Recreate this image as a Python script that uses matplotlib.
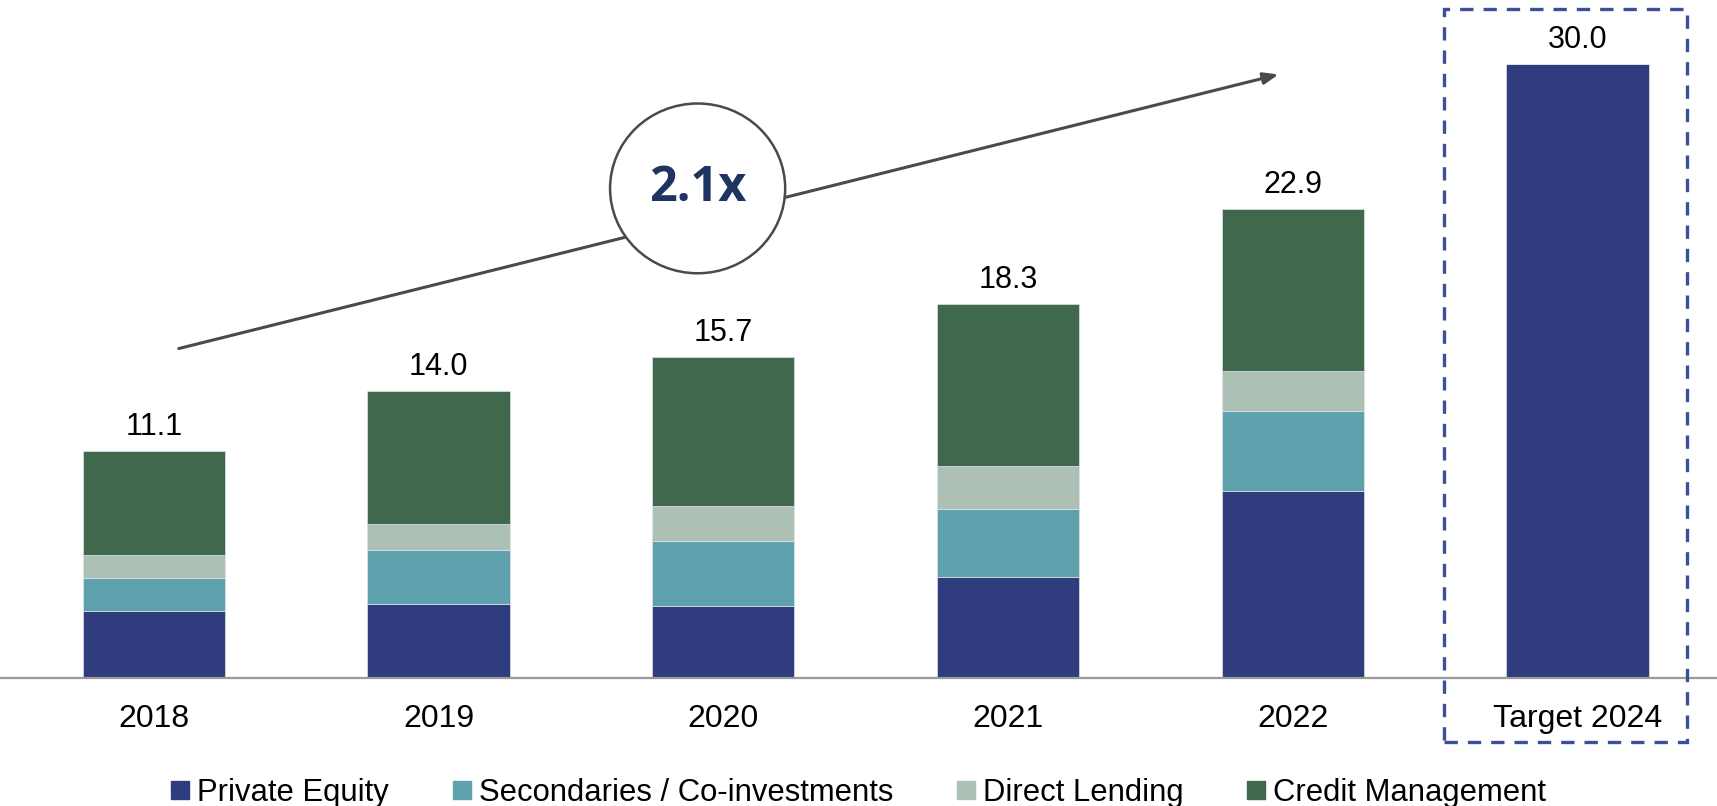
import matplotlib
matplotlib.use("Agg")
import matplotlib.pyplot as plt
import matplotlib.transforms as mtransforms
from matplotlib.patches import Ellipse, Rectangle
from matplotlib.lines import Line2D
import numpy as np

plt.rcParams['font.family'] = ['Liberation Sans', 'DejaVu Sans']

categories = ["2018", "2019", "2020", "2021", "2022", "Target 2024"]
series_names = ["Private Equity", "Secondaries / Co-investments", "Direct Lending", "Credit Management"]
private_equity = [3.29, 3.60, 3.52, 4.95, 9.14, 30.0]
secondaries = [1.57, 2.66, 3.18, 3.32, 3.91, 0.0]
direct_lending = [1.17, 1.24, 1.68, 2.09, 1.97, 0.0]
credit_management = [5.07, 6.50, 7.32, 7.94, 7.88, 0.0]
totals = [11.1, 14.0, 15.7, 18.3, 22.9, 30.0]
growth_label = "2.1x"

colors = ["#2F3C7E", "#5FA2AE", "#ADC0B6", "#3F684C"]

W, H, DPI = 1717, 806, 100
fig = plt.figure(figsize=(W / DPI, H / DPI), dpi=DPI)
ax = fig.add_axes([0, 0.159, 1, 0.841])

x = np.arange(len(categories))
bottom = np.zeros(len(categories))
for vals, col in zip([private_equity, secondaries, direct_lending, credit_management], colors):
    vals = np.array(vals)
    ax.bar(x, vals, width=0.5, bottom=bottom, color=col,
           edgecolor="#dfe3e6", linewidth=0.5, zorder=2)
    bottom += vals

for xi, t in zip(x, totals):
    ax.annotate(f"{t:.1f}", (xi, t), xytext=(0, 6.5), textcoords="offset points",
                ha="center", va="bottom", fontsize=22, color="black")

ax.set_xlim(-0.54, 5.49)
ax.set_ylim(0, 33.14)
for s in ["top", "right", "left"]:
    ax.spines[s].set_visible(False)
ax.spines["bottom"].set_color("#9a9a9a")
ax.spines["bottom"].set_linewidth(1.6)
ax.set_yticks([])
ax.set_xticks(x)
ax.set_xticklabels(categories, fontsize=23)
ax.tick_params(axis="x", length=0, pad=19)

# growth arrow and multiple badge
ax.annotate("", xy=(3.95, 29.5), xytext=(0.088, 16.1),
            arrowprops=dict(arrowstyle="-|>,head_length=0.9,head_width=0.35",
                            color="#4a4a4a", lw=2.2, shrinkA=0, shrinkB=0), zorder=3)
ax.add_patch(Ellipse((1.91, 23.93), 0.615, 8.3, facecolor="white",
                     edgecolor="#4a4a4a", linewidth=1.8, zorder=4))
ax.text(1.91, 23.93, growth_label, ha="center", va="center", fontsize=35,
        fontweight="bold", color="#1F3461", family=["Open Sans", "DejaVu Sans"], zorder=5)

# dashed frame around the target column
trans = mtransforms.blended_transform_factory(ax.transData, fig.transFigure)
fig.add_artist(Rectangle((4.53, 0.079), 0.855, 0.91, transform=trans, fill=False,
                         edgecolor="#3B4F9A", linewidth=2.4, linestyle=(0, (4, 3)),
                         clip_on=False))

handles = [Line2D([], [], linestyle="none", marker="s", markersize=12.5,
                  markerfacecolor=c, markeredgecolor=c) for c in colors]
fig.legend(handles, series_names, loc="center", bbox_to_anchor=(0.5, 0.016),
           ncol=4, frameon=False, fontsize=22.3, handlelength=0.6,
           handletextpad=0.25, columnspacing=2.05)

fig.savefig("out.png", dpi=DPI)
